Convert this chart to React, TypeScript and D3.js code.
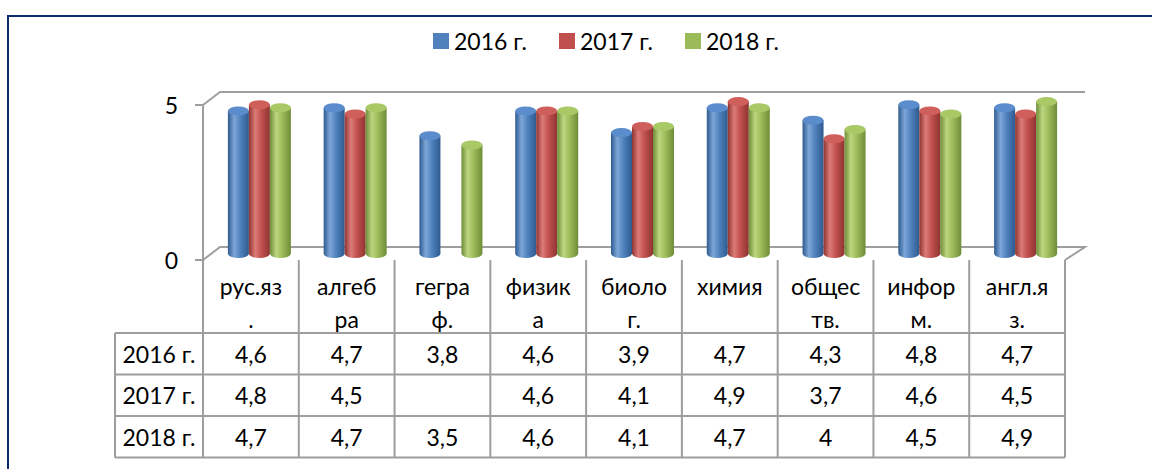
import React from "react";
import * as d3 from "d3";

const categories = ["рус.яз.", "алгебра", "геграф.", "физика", "биолог.", "химия", "обществ.", "информ.", "англ.яз."];
const categoryLines = [["рус.яз", "."], ["алгеб", "ра"], ["гегра", "ф."], ["физик", "а"], ["биоло", "г."], ["химия"], ["общес", "тв."], ["инфор", "м."], ["англ.я", "з."]];
const seriesNames = ["2016 г.", "2017 г.", "2018 г."];
const values2016: (number | null)[] = [4.6, 4.7, 3.8, 4.6, 3.9, 4.7, 4.3, 4.8, 4.7];
const values2017: (number | null)[] = [4.8, 4.5, null, 4.6, 4.1, 4.9, 3.7, 4.6, 4.5];
const values2018: (number | null)[] = [4.7, 4.7, 3.5, 4.6, 4.1, 4.7, 4.0, 4.5, 4.9];
const yTicks = [0, 5];

const seriesValues = [values2016, values2017, values2018];
const colors = [
  { base: "#4f81bd", light: "#7ea6d8", dark: "#2e5a8e", top: "#5b8ccc" },
  { base: "#c0504d", light: "#dc7b78", dark: "#8e3431", top: "#cf5f5b" },
  { base: "#9bbb59", light: "#bcd67f", dark: "#6f8c38", top: "#a9c866" },
];

const FONT = "Lato, 'Open Sans', sans-serif";
const FS = 23;

export default function App() {
  const W = 1152, H = 469;
  const x0 = 203, x1 = 1065;
  const yFront0 = 260, yFront5 = 105;
  const dx = 17, dy = -13;
  const x = d3.scaleBand<string>().domain(categories).range([x0, x1]);
  const y = d3.scaleLinear().domain([0, 5]).range([yFront0, yFront5]);
  const barW = 21;
  const inner = d3.scaleBand<string>().domain(seriesNames).range([0, barW * 3]);
  const ry = 4.5;
  const grid = "#9e9e9e";
  const fmt = (v: number | null) => (v == null ? "" : String(v).replace(".", ","));

  const rowTop = 333, rowH = 41.5;
  const tableLeft = 115;

  return (
    <div style={{ position: "absolute", left: 0, top: 0 }}>
      <svg width={W} height={H} style={{ display: "block" }} fontFamily={FONT}>
        <defs>
          {colors.map((c, i) => (
            <linearGradient key={i} id={`g${i}`} x1="0" x2="1" y1="0" y2="0">
              <stop offset="0" stopColor={c.dark} />
              <stop offset="0.3" stopColor={c.light} />
              <stop offset="0.6" stopColor={c.base} />
              <stop offset="1" stopColor={c.dark} />
            </linearGradient>
          ))}
        </defs>
        <rect x={0} y={0} width={W} height={H} fill="#fff" />
        <rect x={8} y={16} width={W + 20} height={H + 20} fill="none" stroke="#0c2a6e" strokeWidth={2} />

        {/* legend */}
        {seriesNames.map((s, i) => {
          const lx = [433, 559, 685][i];
          return (
            <g key={s}>
              <rect x={lx} y={33} width={16} height={16} fill={colors[i].base} />
              <text x={lx + 21} y={41} dominantBaseline="central" fontSize={FS} fill="#000">{s}</text>
            </g>
          );
        })}

        {/* walls */}
        <g stroke={grid} strokeWidth={2} fill="none">
          <path d={`M${x0},${y(5)}L${x0 + dx},${y(5) + dy}H${x1 + dx + 3}`} />
          <path d={`M${x0},${y(0)}L${x0 + dx},${y(0) + dy}H${x1 + dx + 3}L${x1},${y(0)}`} />
          <line x1={x0} x2={x0} y1={y(5)} y2={y(0)} />
          {yTicks.map((t) => (
            <line key={t} x1={x0 - 8} x2={x0} y1={y(t)} y2={y(t)} />
          ))}
        </g>
        {yTicks.map((t) => (
          <text key={t} x={178} y={y(t)} textAnchor="end" dominantBaseline="central" fontSize={FS} fill="#000">{t}</text>
        ))}

        {/* bars */}
        {categories.map((c, ci) => {
          const cx = (x(c) as number) + x.bandwidth() / 2 + dx / 2;
          const start = cx - (barW * 3) / 2;
          return (
            <g key={c}>
              {seriesNames.map((s, si) => {
                const v = seriesValues[si][ci];
                if (v == null) return null;
                const bx = start + (inner(s) as number);
                const w = inner.bandwidth();
                const yb = y(0) + dy / 2;
                const yt = y(v) + dy / 2;
                return (
                  <g key={s}>
                    <path
                      d={`M${bx},${yt}V${yb}A${w / 2},${ry} 0 0 0 ${bx + w},${yb}V${yt}Z`}
                      fill={`url(#g${si})`}
                    />
                    <ellipse cx={bx + w / 2} cy={yt} rx={w / 2} ry={ry} fill={colors[si].top} />
                  </g>
                );
              })}
            </g>
          );
        })}

        {/* table */}
        <g stroke={grid} strokeWidth={2} fill="none">
          <line x1={x0} x2={x0} y1={y(0)} y2={rowTop + rowH * 3} />
          {categories.map((c) => (
            <line key={c} x1={(x(c) as number) + x.bandwidth()} x2={(x(c) as number) + x.bandwidth()} y1={y(0)} y2={rowTop + rowH * 3} />
          ))}
          {[0, 1, 2, 3].map((r) => (
            <line key={r} x1={tableLeft} x2={x1} y1={rowTop + rowH * r} y2={rowTop + rowH * r} />
          ))}
          <line x1={tableLeft} x2={tableLeft} y1={rowTop} y2={rowTop + rowH * 3} />
        </g>
        {categories.map((c, ci) => (
          <text key={c} x={(x(c) as number) + x.bandwidth() / 2} textAnchor="middle" fontSize={FS} fill="#000">
            {categoryLines[ci].map((l, li) => (
              <tspan key={li} x={(x(c) as number) + x.bandwidth() / 2} y={286 + li * 33} dominantBaseline="central">{l}</tspan>
            ))}
          </text>
        ))}
        {seriesNames.map((s, si) => (
          <g key={s}>
            <text x={(tableLeft + x0) / 2} y={rowTop + rowH * si + rowH / 2} textAnchor="middle" dominantBaseline="central" fontSize={FS} fill="#000">{s}</text>
            {categories.map((c, ci) => (
              <text key={c} x={(x(c) as number) + x.bandwidth() / 2} y={rowTop + rowH * si + rowH / 2} textAnchor="middle" dominantBaseline="central" fontSize={FS} fill="#000">
                {fmt(seriesValues[si][ci])}
              </text>
            ))}
          </g>
        ))}
      </svg>
    </div>
  );
}
